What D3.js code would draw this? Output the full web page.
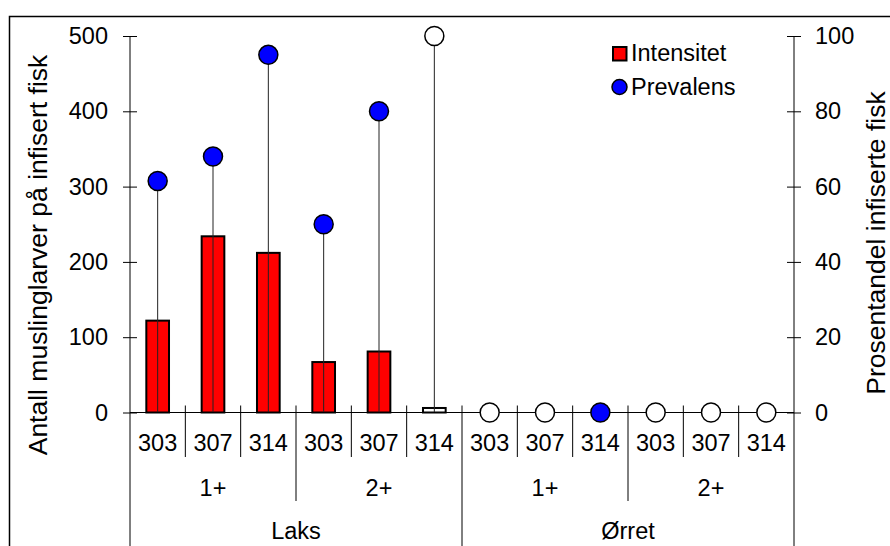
<!DOCTYPE html>
<html>
<head>
<meta charset="utf-8">
<script src="https://cdn.jsdelivr.net/npm/d3@7"></script>
<style>
  html, body { margin: 0; padding: 0; background: #fff; }
  svg { display: block; font-family: "Liberation Sans", Arial, sans-serif; }
</style>
</head>
<body>
<svg id="chart" width="890" height="546"></svg>
<script>
// ---- Data ----
const species = ["Laks", "Ørret"];
const ages = ["1+", "2+"];
const sites = ["303", "307", "314"];
const intensitet = [122, 234, 212, 67, 81, 6, 0, 0, 0, 0, 0, 0];
const prevalens = [61.5, 68, 95, 50, 80, 100, 0, 0, 0, 0, 0, 0];
const filledMarker = [true, true, true, true, true, false, false, false, true, false, false, false];
const leftTicks = [0, 100, 200, 300, 400, 500];
const rightTicks = [0, 20, 40, 60, 80, 100];
const leftTitle = "Antall muslinglarver på infisert fisk";
const rightTitle = "Prosentandel infiserte fisk";
const legendLabels = ["Intensitet", "Prevalens"];

// build category table
const cats = [];
species.forEach(sp => ages.forEach(ag => sites.forEach(st => cats.push({sp, ag, st}))));
cats.forEach((c, i) => { c.i = i; c.int = intensitet[i]; c.prev = prevalens[i]; c.filled = filledMarker[i]; });

const svg = d3.select("#chart");
const L = 130, R = 794, T = 36, B = 412.5;
const FS = 23.5;

const x = d3.scaleBand().domain(cats.map(c => c.i)).range([L, R]).paddingInner(0).paddingOuter(0);
const yL = d3.scaleLinear().domain([0, 500]).range([B, T]);
const yR = d3.scaleLinear().domain([0, 100]).range([B, T]);
const bw = x.bandwidth() * 0.41;

// outer border
svg.append("rect").attr("x", 9.5).attr("y", 16.5).attr("width", 900).attr("height", 560)
  .attr("fill", "none").attr("stroke", "#000").attr("stroke-width", 1.5);

// bars
svg.append("g").selectAll("rect").data(cats.filter(c => c.int > 0)).join("rect")
  .attr("x", c => x(c.i) + (x.bandwidth() - bw) / 2)
  .attr("y", c => yL(c.int))
  .attr("width", bw)
  .attr("height", c => yL(0) - yL(c.int))
  .attr("fill", c => c.filled ? "#ff0000" : "#ffffff")
  .attr("stroke", "#000").attr("stroke-width", 2);

// drop lines
svg.append("g").selectAll("line").data(cats.filter(c => c.prev > 0)).join("line")
  .attr("x1", c => x(c.i) + x.bandwidth() / 2).attr("x2", c => x(c.i) + x.bandwidth() / 2)
  .attr("y1", c => yR(c.prev)).attr("y2", B)
  .attr("stroke", "#222").attr("stroke-width", 1);

// left axis
const gl = svg.append("g").attr("transform", `translate(${L},0)`)
  .call(d3.axisLeft(yL).tickValues(leftTicks).tickSize(7).tickPadding(15));
gl.select(".domain").remove();
gl.selectAll(".tick line").attr("x1", 7).attr("stroke", "#000");
gl.selectAll("text").attr("font-size", FS).attr("font-family", "Liberation Sans, Arial").attr("fill", "#000");
svg.append("line").attr("x1", L).attr("x2", L).attr("y1", T).attr("y2", 546).attr("stroke", "#000");

// right axis
const gr = svg.append("g").attr("transform", `translate(${R},0)`)
  .call(d3.axisRight(yR).tickValues(rightTicks).tickSize(7).tickPadding(14));
gr.select(".domain").remove();
gr.selectAll(".tick line").attr("x1", -7).attr("stroke", "#000");
gr.selectAll("text").attr("font-size", FS).attr("font-family", "Liberation Sans, Arial").attr("fill", "#000");
svg.append("line").attr("x1", R).attr("x2", R).attr("y1", T).attr("y2", 546).attr("stroke", "#000");

// baseline
svg.append("line").attr("x1", L).attr("x2", R).attr("y1", B).attr("y2", B).attr("stroke", "#000");

// category boundaries
const gx = svg.append("g");
for (let i = 1; i < cats.length; i++) {
  const bx = x(i);
  let y2 = 457;
  if (i % 3 === 0) y2 = 501;
  if (i % 6 === 0) y2 = 546;
  gx.append("line").attr("x1", bx).attr("x2", bx).attr("y1", B - 7).attr("y2", y2)
    .attr("stroke", "#000").attr("stroke-width", 1);
}
// level 1 labels
gx.selectAll("text.l1").data(cats).join("text").attr("class", "l1")
  .attr("x", c => x(c.i) + x.bandwidth() / 2).attr("y", 443)
  .attr("text-anchor", "middle").attr("dominant-baseline", "central")
  .attr("font-size", FS).text(c => c.st);
// level 2 labels
const l2 = [];
species.forEach((sp, si) => ages.forEach((ag, ai) => l2.push({ag, start: (si * 2 + ai) * 3})));
gx.selectAll("text.l2").data(l2).join("text").attr("class", "l2")
  .attr("x", d => (x(d.start) + x(d.start + 2) + x.bandwidth()) / 2).attr("y", 488)
  .attr("text-anchor", "middle").attr("dominant-baseline", "central")
  .attr("font-size", FS).text(d => d.ag);
// level 3 labels
gx.selectAll("text.l3").data(species).join("text").attr("class", "l3")
  .attr("x", (d, i) => (x(i * 6) + x(i * 6 + 5) + x.bandwidth()) / 2).attr("y", 531)
  .attr("text-anchor", "middle").attr("dominant-baseline", "central")
  .attr("font-size", FS).text(d => d);

// prevalence markers
svg.append("g").selectAll("circle").data(cats).join("circle")
  .attr("cx", c => x(c.i) + x.bandwidth() / 2)
  .attr("cy", c => yR(c.prev))
  .attr("r", 9.5)
  .attr("fill", c => c.filled ? "#0000ff" : "#ffffff")
  .attr("stroke", "#000").attr("stroke-width", 1.5);

// axis titles
svg.append("text").attr("transform", "translate(38,255) rotate(-90)")
  .attr("text-anchor", "middle").attr("dominant-baseline", "central")
  .attr("font-size", 26.5).text(leftTitle);
svg.append("text").attr("transform", "translate(876,243) rotate(-90)")
  .attr("text-anchor", "middle").attr("dominant-baseline", "central")
  .attr("font-size", 26.5).text(rightTitle);

// legend
const lg = svg.append("g");
lg.append("rect").attr("x", 613).attr("y", 47).attr("width", 13.5).attr("height", 13.5)
  .attr("fill", "#ff0000").attr("stroke", "#000").attr("stroke-width", 2);
lg.append("circle").attr("cx", 619.5).attr("cy", 87).attr("r", 7.5)
  .attr("fill", "#0000ff").attr("stroke", "#000").attr("stroke-width", 1.5);
lg.selectAll("text").data(legendLabels).join("text")
  .attr("x", 631).attr("y", (d, i) => 53 + i * 34)
  .attr("dominant-baseline", "central").attr("font-size", FS).text(d => d);
</script>
</body>
</html>
